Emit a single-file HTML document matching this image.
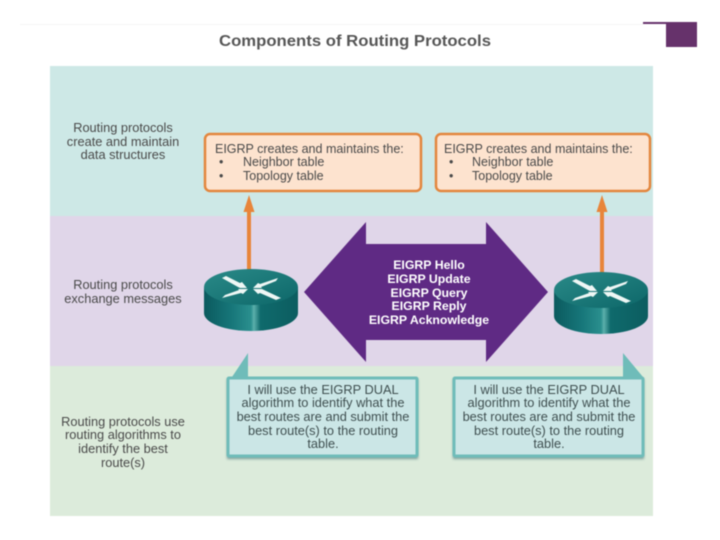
<!DOCTYPE html>
<html><head><meta charset="utf-8"><style>
html,body{margin:0;padding:0;background:#fff}
svg{display:block;filter:blur(0.4px)}
text{font-family:"Liberation Sans",sans-serif}
.l{font-size:12.8px;fill:#4a4a4a;text-anchor:middle}
.o{font-size:12.5px;fill:#4a4a4a}
.c{font-size:12.8px;fill:#3f4f50;text-anchor:middle}
.p{font-size:12.3px;fill:#fff;text-anchor:middle;font-weight:bold}
</style></head><body>
<svg width="720" height="540" viewBox="0 0 720 540" xmlns="http://www.w3.org/2000/svg">
<defs>
<linearGradient id="side" x1="0" x2="1" y1="0" y2="0">
<stop offset="0" stop-color="#0b5a5e"/><stop offset=".3" stop-color="#17777a"/><stop offset=".5" stop-color="#2a8f8e"/><stop offset=".53" stop-color="#5cb0ac"/><stop offset=".6" stop-color="#0f6a6c"/><stop offset="1" stop-color="#0c5d60"/>
</linearGradient>
<linearGradient id="top" x1="0" x2="1" y1="0" y2="1">
<stop offset="0" stop-color="#2a8a88"/><stop offset="1" stop-color="#0d6769"/>
</linearGradient>
<filter id="sh" x="-5%" y="-5%" width="110%" height="115%"><feGaussianBlur stdDeviation="1.2"/></filter>
<g id="router">
<path d="M-47 0 V26 A47 18 0 0 0 47 26 V0 Z" fill="url(#side)"/>
<ellipse cx="0" cy="0" rx="47" ry="18" fill="url(#top)"/>
<g fill="#eef7f5">
<path d="M-29 -9 L-25 -11 L-11 -4 L-9 -5 L-4 1 L-11 1 L-13 0 Z"/>
<path d="M27 -9 L25 -6 L10 0 L11 1 L2 1 L7 -4 L9 -3 Z"/>
<path d="M-29 11 L-26 8 L-12 3 L-13 2 L-3 2 L-8 7 L-10 6 Z"/>
<path d="M30 11 L25 13 L9 6 L7 7 L2 2 L11 2 L13 3 Z"/>
</g>
</g>
</defs>
<rect width="720" height="540" fill="#fff"/>
<rect x="20" y="24" width="623" height="1" fill="#f5f5f5"/>
<rect x="643" y="22" width="24" height="2" fill="#66326b"/>
<rect x="666" y="22" width="31" height="25" fill="#66326b"/>
<text x="219" y="46" font-size="15.5" font-weight="bold" fill="#565656" textLength="272" lengthAdjust="spacingAndGlyphs">Components of Routing Protocols</text>

<rect x="50" y="66" width="603" height="150" fill="#cde8e6"/>
<rect x="50" y="216" width="603" height="150" fill="#e0d6e9"/>
<rect x="50" y="366" width="603" height="150" fill="#dcebdb"/>

<text class="l" x="123" y="132">Routing protocols</text>
<text class="l" x="123" y="146">create and maintain</text>
<text class="l" x="123" y="159">data structures</text>
<text class="l" x="123" y="289">Routing protocols</text>
<text class="l" x="123" y="303">exchange messages</text>
<text class="l" x="123" y="426">Routing protocols use</text>
<text class="l" x="123" y="439">routing algorithms to</text>
<text class="l" x="123" y="453">identify the best</text>
<text class="l" x="123" y="467">route(s)</text>

<rect x="205" y="134" width="216" height="57" rx="5" fill="#fde3cf" stroke="#e3863e" stroke-width="2.5"/>
<rect x="436" y="134" width="214" height="57" rx="5" fill="#fde3cf" stroke="#e3863e" stroke-width="2.5"/>
<text class="o" x="215" y="153">EIGRP creates and maintains the:</text>
<text class="o" x="219" y="166" font-size="9">•</text><text class="o" x="243" y="166">Neighbor table</text>
<text class="o" x="219" y="180" font-size="9">•</text><text class="o" x="243" y="180">Topology table</text>
<text class="o" x="444" y="153">EIGRP creates and maintains the:</text>
<text class="o" x="449" y="166" font-size="9">•</text><text class="o" x="472" y="166">Neighbor table</text>
<text class="o" x="449" y="180" font-size="9">•</text><text class="o" x="472" y="180">Topology table</text>

<rect x="247" y="208" width="4" height="64" fill="#e8853a"/>
<path d="M249 195 L243.500 212 H254.500 Z" fill="#e8853a"/>
<rect x="600" y="208" width="4" height="66" fill="#e8853a"/>
<path d="M602 195 L596.500 212 H607.500 Z" fill="#e8853a"/>

<use href="#router" x="251" y="287"/>
<use href="#router" x="601" y="290"/>

<path d="M304 292 L366 222 V244 H486 V222 L548 292 L486 362 V340 H366 V362 Z" fill="#5f2a84"/>
<text class="p" x="429" y="269">EIGRP Hello</text>
<text class="p" x="429" y="283">EIGRP Update</text>
<text class="p" x="429" y="297">EIGRP Query</text>
<text class="p" x="429" y="310">EIGRP Reply</text>
<text class="p" x="429" y="324">EIGRP Acknowledge</text>

<path d="M232 377 L248 353 V377 Z" fill="#6fbcb9"/>
<path d="M623 353 L643 377 H623 Z" fill="#6fbcb9"/>
<rect x="227" y="379" width="191" height="80" fill="#4f7f80" opacity=".7" filter="url(#sh)"/>
<rect x="453" y="379" width="191" height="80" fill="#4f7f80" opacity=".7" filter="url(#sh)"/>
<rect x="228" y="378" width="189" height="78" rx="1" fill="#cbe6e6" stroke="#6fbcb9" stroke-width="3"/>
<rect x="454" y="378" width="189" height="78" rx="1" fill="#cbe6e6" stroke="#6fbcb9" stroke-width="3"/>
<text class="c" x="323" y="394">I will use the EIGRP DUAL</text>
<text class="c" x="323" y="407">algorithm to identify what the</text>
<text class="c" x="323" y="421">best routes are and submit the</text>
<text class="c" x="323" y="435">best route(s) to the routing</text>
<text class="c" x="323" y="448">table.</text>
<text class="c" x="549" y="394">I will use the EIGRP DUAL</text>
<text class="c" x="549" y="407">algorithm to identify what the</text>
<text class="c" x="549" y="421">best routes are and submit the</text>
<text class="c" x="549" y="435">best route(s) to the routing</text>
<text class="c" x="549" y="448">table.</text>
</svg>
</body></html>
